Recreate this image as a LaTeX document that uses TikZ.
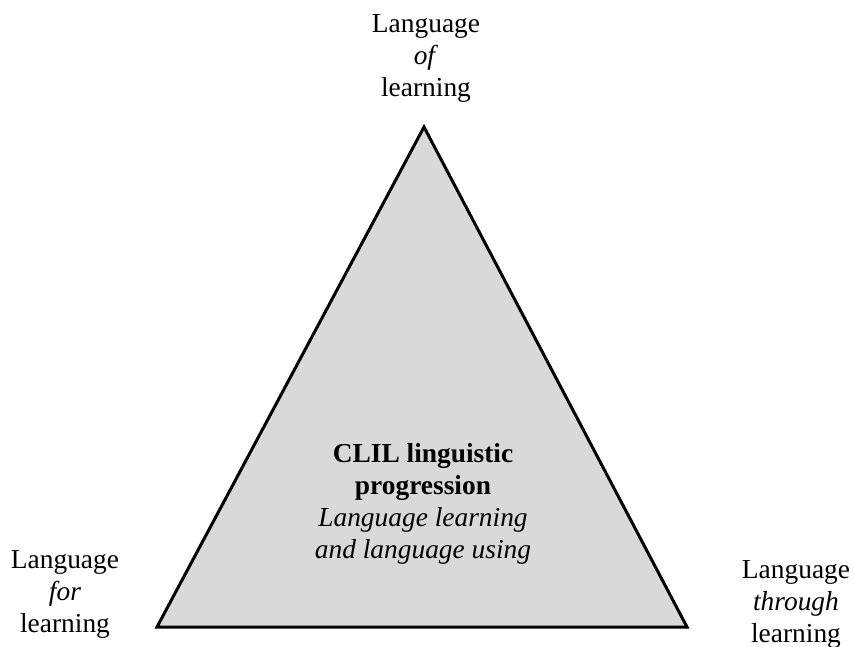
\documentclass[tikz,border=0pt]{standalone}
\usepackage{fontspec}
\setmainfont{Liberation Serif}
\usetikzlibrary{positioning}
\definecolor{trigray}{RGB}{217,217,217}

\begin{document}
\begin{tikzpicture}[x=1pt,y=1pt,every node/.style={align=center,inner sep=0pt,
	anchor=base,font=\fontsize{27.4}{32}\selectfont}]
	\useasboundingbox (0,0) rectangle (854,646);
	% create the corners.
	\coordinate (top) at (424,519);
	\coordinate (left) at (157,19);
	\coordinate (right) at (687,19);

	% draw the triangle
	\filldraw[fill=trigray,line width=3pt] (top) -- (left) -- (right) -- cycle;

	% create the nodes.
	\node (langof) at (426,549) {Language\\\textit{of}\\learning};
	\node (langfor) at (65,14) {Language\\\textit{for}\\learning};
	\node (langthrough) at (796,4) {Language\\\textit{through}\\learning};
	\node (clil) at (423,88) {\textbf{CLIL linguistic}\\\textbf{progression}\\
		\textit{Language learning}\\\textit{and language using}};
\end{tikzpicture}
\end{document}
